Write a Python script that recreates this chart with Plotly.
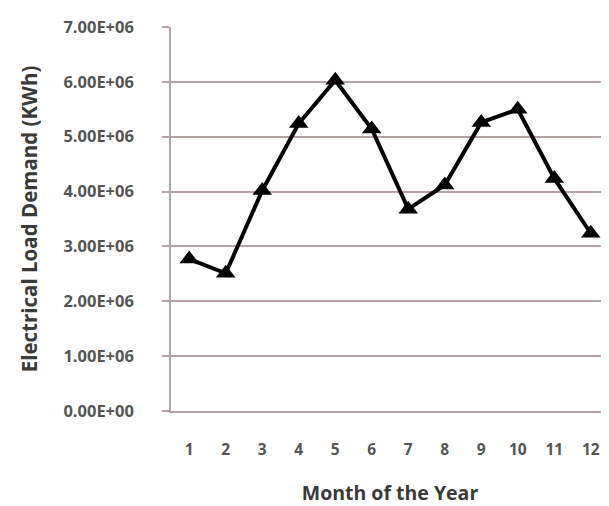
import plotly.graph_objects as go

months = [1, 2, 3, 4, 5, 6, 7, 8, 9, 10, 11, 12]
demand = [2.77e6, 2.51e6, 4.02e6, 5.24e6, 6.03e6, 5.14e6, 3.68e6, 4.12e6, 5.26e6, 5.50e6, 4.24e6, 3.24e6]
y_tickvals = [0, 1e6, 2e6, 3e6, 4e6, 5e6, 6e6, 7e6]
y_ticktext = ["0.00E+00", "1.00E+06", "2.00E+06", "3.00E+06", "4.00E+06", "5.00E+06", "6.00E+06", "7.00E+06"]
x_ticktext = [str(m) for m in months]

fig = go.Figure()
fig.add_trace(go.Scatter(
    x=months, y=demand, mode="lines+markers",
    line=dict(color="black", width=4),
    marker=dict(symbol="triangle-up", size=17, color="black"),
    cliponaxis=False,
))

grid = "#b3a3a3"
fig.update_layout(
    width=601, height=498,
    margin=dict(l=163, r=0, t=19, b=95),
    paper_bgcolor="white", plot_bgcolor="white",
    showlegend=False,
    font=dict(family="Open Sans", color="#555555"),
    xaxis=dict(
        range=[0.5, 12.5], tickvals=months, ticktext=x_ticktext,
        showgrid=False, showline=True, linecolor=grid, linewidth=1.5,
        ticks="", ticklabelstandoff=24, automargin=False,
        tickfont=dict(size=15.5, family="Open Sans", weight="bold", color="#555555"),
        title=dict(text="Month of the Year", standoff=36,
                   font=dict(size=19.5, family="Open Sans", weight="bold", color="#3a3a3a")),
        zeroline=False,
    ),
    yaxis=dict(
        range=[0, 7e6], tickvals=y_tickvals, ticktext=y_ticktext,
        showgrid=True, gridcolor=grid, gridwidth=1.5,
        showline=True, linecolor=grid, linewidth=1.5,
        ticks="outside", ticklen=7, tickcolor=grid, tickwidth=1.5,
        ticklabelstandoff=25, automargin=False,
        tickfont=dict(size=16.5, family="Open Sans", weight="bold", color="#555555"),
        title=dict(text="Electrical Load Demand (KWh)", standoff=20,
                   font=dict(size=20.5, family="Open Sans", weight="bold", color="#3a3a3a")),
        zeroline=False,
    ),
)
fig.write_html("out.html")
